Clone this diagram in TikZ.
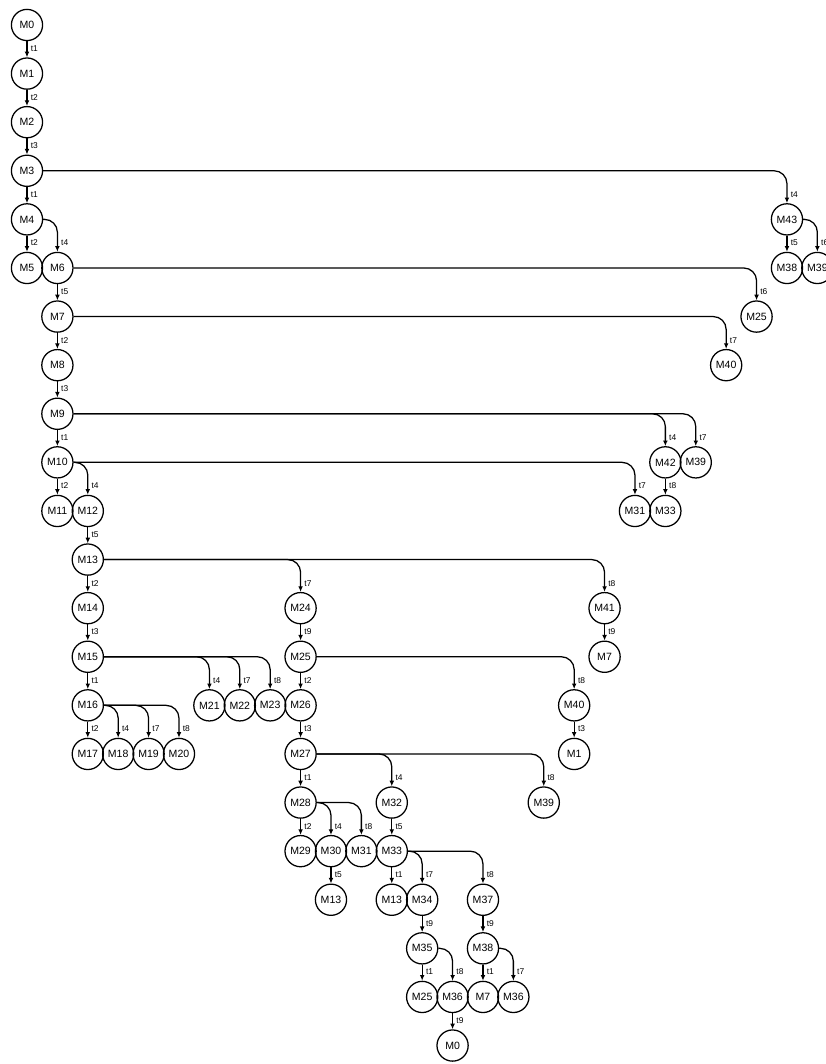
\documentclass[tikz,border=0pt]{standalone}
\usepackage{fontspec}
\setmainfont{Liberation Sans}
\usetikzlibrary{arrows.meta}
\begin{document}
\begin{tikzpicture}[x=0.76cm,y=-1.215cm,
  mk/.style={draw,circle,line width=0.9pt,minimum size=0.78cm,inner sep=0pt,font=\fontsize{7.5}{8}\selectfont},
  arc/.style={line width=0.9pt,-{Latex[length=4pt,width=3.4pt]},rounded corners=0.32cm},
  lbl/.style={anchor=south west,inner sep=0pt,xshift=0.08cm,yshift=0.13cm,font=\fontsize{6}{6}\selectfont}]
\useasboundingbox (-0.888,-0.514) rectangle (26.28,21.38);
\foreach \n/\t/\c/\r in {m0/M0/0/0,m1/M1/0/1,m2/M2/0/2,m3/M3/0/3,m4/M4/0/4,m5/M5/0/5,m6/M6/1/5,m7/M7/1/6,m8/M8/1/7,m9/M9/1/8,m10/M10/1/9,m11/M11/1/10,m12/M12/2/10,m13/M13/2/11,m14/M14/2/12,m15/M15/2/13,m16/M16/2/14,m17/M17/2/15,m18/M18/3/15,m19/M19/4/15,m20/M20/5/15,m21/M21/6/14,m22/M22/7/14,m23/M23/8/14,m24/M24/9/12,m25/M25/9/13,m26/M26/9/14,m27/M27/9/15,m28/M28/9/16,m29/M29/9/17,m30/M30/10/17,m31/M31/11/17,m32/M32/12/16,m33/M33/12/17,m13b/M13/10/18,m13c/M13/12/18,m34/M34/13/18,m37/M37/15/18,m35/M35/13/19,m38/M38/15/19,m25c/M25/13/20,m36/M36/14/20,m7c/M7/15/20,m36b/M36/16/20,m0b/M0/14/21,m39/M39/17/16,m40/M40/18/14,m1b/M1/18/15,m41/M41/19/12,m7b/M7/19/13,m42/M42/21/9,m39b/M39/22/9,m31b/M31/20/10,m33b/M33/21/10,m40b/M40/23/7,m25b/M25/24/6,m43/M43/25/4,m38b/M38/25/5,m39c/M39/26/5} \node[mk] (\n) at (\c,\r) {\t};
\foreach \a/\b/\l in {m0/m1/t1,m1/m2/t2,m2/m3/t3,m3/m4/t1,m4/m5/t2,m6/m7/t5,m7/m8/t2,m8/m9/t3,m9/m10/t1,m10/m11/t2,m12/m13/t5,m13/m14/t2,m14/m15/t3,m15/m16/t1,m16/m17/t2,m24/m25/t9,m25/m26/t2,m26/m27/t3,m27/m28/t1,m28/m29/t2,m30/m13b/t5,m32/m33/t5,m33/m13c/t1,m34/m35/t9,m35/m25c/t1,m36/m0b/t9,m37/m38/t9,m38/m7c/t1,m41/m7b/t9,m40/m1b/t3,m42/m33b/t8,m43/m38b/t5} \draw[arc] (\a.south) -- (\b.north) node[lbl] {\l};
\foreach \a/\b/\l in {m3/m43/t4,m4/m6/t4,m6/m25b/t6,m7/m40b/t7,m9/m42/t4,m9/m39b/t7,m10/m12/t4,m10/m31b/t7,m13/m24/t7,m13/m41/t8,m15/m21/t4,m15/m22/t7,m15/m23/t8,m16/m18/t4,m16/m19/t7,m16/m20/t8,m25/m40/t8,m27/m32/t4,m27/m39/t8,m28/m30/t4,m28/m31/t8,m33/m34/t7,m33/m37/t8,m35/m36/t8,m38/m36b/t7,m43/m39c/t6} \draw[arc] (\a.east) -| (\b.north) node[lbl] {\l};
\end{tikzpicture}
\end{document}
